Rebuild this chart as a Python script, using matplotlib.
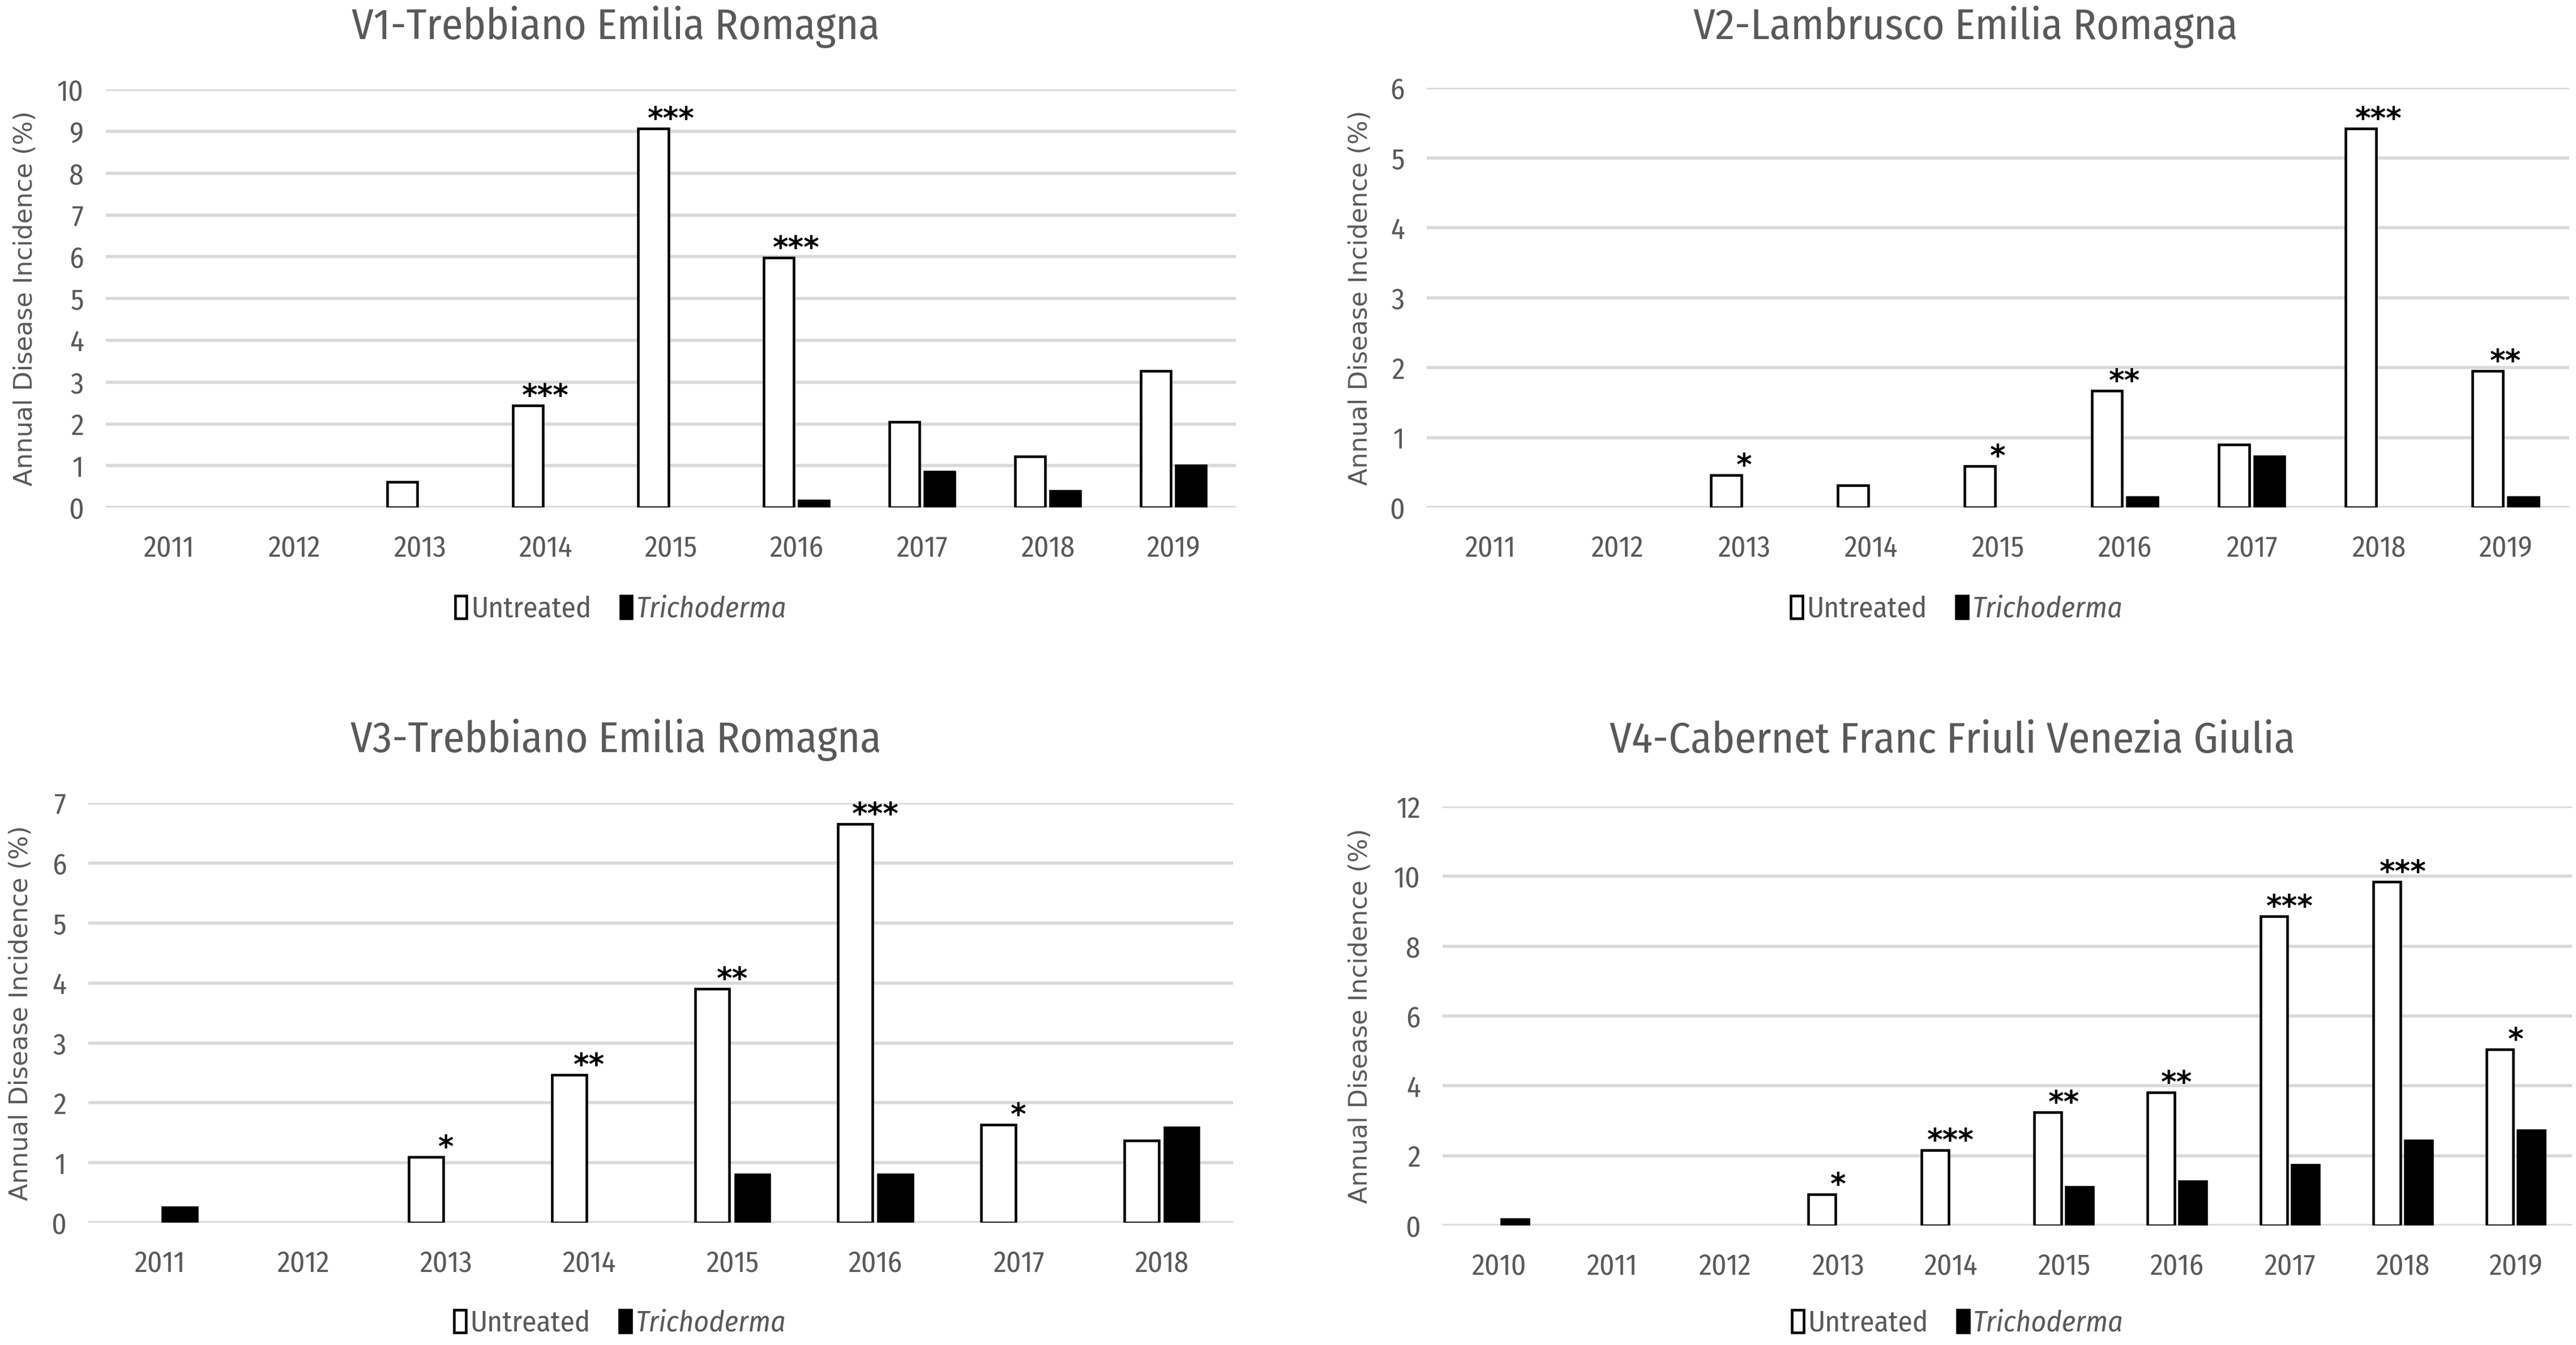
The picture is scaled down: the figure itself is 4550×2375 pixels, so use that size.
import numpy as np
import matplotlib.pyplot as plt
from matplotlib.patches import Patch

# Annual disease incidence (%)
v1_years = ['2011', '2012', '2013', '2014', '2015', '2016', '2017', '2018', '2019']
v1_untreated = [0, 0, 0.61, 2.44, 9.07, 5.98, 2.05, 1.22, 3.27]
v1_tricho = [0, 0, 0, 0, 0, 0.17, 0.85, 0.40, 1.01]
v1_stars = ['', '', '', '***', '***', '***', '', '', '']

v2_years = ['2011', '2012', '2013', '2014', '2015', '2016', '2017', '2018', '2019']
v2_untreated = [0, 0, 0.46, 0.32, 0.59, 1.67, 0.90, 5.42, 1.95]
v2_tricho = [0, 0, 0, 0, 0, 0.15, 0.73, 0, 0.15]
v2_stars = ['', '', '*', '', '*', '**', '', '***', '**']

v3_years = ['2011', '2012', '2013', '2014', '2015', '2016', '2017', '2018']
v3_untreated = [0, 0, 1.10, 2.47, 3.90, 6.65, 1.64, 1.37]
v3_tricho = [0.26, 0, 0, 0, 0.80, 0.80, 0, 1.59]
v3_stars = ['', '', '*', '**', '**', '***', '*', '']

v4_years = ['2010', '2011', '2012', '2013', '2014', '2015', '2016', '2017', '2018', '2019']
v4_untreated = [0, 0, 0, 0.89, 2.16, 3.24, 3.81, 8.86, 9.85, 5.05]
v4_tricho = [0.18, 0, 0, 0, 0, 1.10, 1.26, 1.73, 2.44, 2.72]
v4_stars = ['', '', '', '*', '***', '**', '**', '***', '***', '*']

titles = ['V1-Trebbiano Emilia Romagna', 'V2-Lambrusco Emilia Romagna',
          'V3-Trebbiano Emilia Romagna', 'V4-Cabernet Franc Friuli Venezia Giulia']

GRAY = '#595959'
NARROW = ['Fira Sans Condensed', 'Fira Sans Extra Condensed', 'DejaVu Sans']

fig = plt.figure(figsize=(45.5, 23.75), dpi=100)


def draw_panel(rect, title, title_xy, ylab_x, legend_xy, years, untreated, tricho, stars, ymax, ystep):
    ax = fig.add_axes(rect)
    x = np.arange(len(years))
    u = np.array(untreated)
    t = np.array(tricho)
    w = 0.24
    iu = u > 0
    it = t > 0
    ax.bar(x[iu] - 0.14, u[iu], w, color='white', edgecolor='black', linewidth=3.3, zorder=3)
    ax.bar(x[it] + 0.14, t[it], w, color='black', edgecolor='black', linewidth=3.3, zorder=3)

    for i, s in enumerate(stars):
        if s:
            ax.text(x[i], u[i], s, ha='center', va='baseline', fontsize=38,
                    fontweight='bold', family='DejaVu Sans', color='black')

    ax.set_xlim(-0.5, len(years) - 0.5)
    ax.set_ylim(0, ymax)
    ax.set_yticks(np.arange(0, ymax + ystep / 2, ystep))
    ax.set_xticks(x)
    ax.set_xticklabels(years)
    ax.grid(axis='y', color='#d9d9d9', linewidth=4)
    ax.set_axisbelow(True)
    for sp in ax.spines.values():
        sp.set_visible(False)
    ax.tick_params(axis='both', length=0, labelsize=37, labelcolor=GRAY)
    ax.tick_params(axis='x', pad=34)
    ax.tick_params(axis='y', pad=28)
    for lab in ax.get_xticklabels() + ax.get_yticklabels():
        lab.set_family(NARROW)

    fig.text(title_xy[0], title_xy[1], title, ha='center', va='center',
             fontsize=55, color=GRAY, family=NARROW)
    fig.text(ylab_x, rect[1] + rect[3] / 2, 'Annual Disease Incidence (%)', rotation=90,
             ha='center', va='center', fontsize=32, color=GRAY, family='DejaVu Sans')

    handles = [Patch(facecolor='white', edgecolor='black', linewidth=3.3),
               Patch(facecolor='black', edgecolor='black', linewidth=3.3)]
    leg = fig.legend(handles, ['Untreated', 'Trichoderma'], loc='center',
                     bbox_to_anchor=legend_xy, ncol=2, frameon=False,
                     prop={'family': NARROW, 'size': 37},
                     handlelength=0.4, handleheight=0.8, handletextpad=0.15,
                     columnspacing=1.0, borderpad=0)
    for txt in leg.get_texts():
        txt.set_color(GRAY)
    leg.get_texts()[1].set_style('italic')
    return ax


draw_panel([0.0411, 0.6227, 0.4387, 0.3107], titles[0], (0.239, 0.980), 0.0097, (0.241, 0.547),
           v1_years, v1_untreated, v1_tricho, v1_stars, 10, 1)
draw_panel([0.5538, 0.6227, 0.4435, 0.3120], titles[1], (0.763, 0.980), 0.528, (0.7596, 0.547),
           v2_years, v2_untreated, v2_tricho, v2_stars, 6, 1)
draw_panel([0.0343, 0.0909, 0.4444, 0.3120], titles[2], (0.239, 0.450), 0.008, (0.2407, 0.016),
           v3_years, v3_untreated, v3_tricho, v3_stars, 7, 1)
draw_panel([0.5600, 0.0888, 0.4385, 0.3116], titles[3], (0.758, 0.449), 0.528, (0.760, 0.016),
           v4_years, v4_untreated, v4_tricho, v4_stars, 12, 2)

fig.savefig('out.png', dpi=100, facecolor='white')
